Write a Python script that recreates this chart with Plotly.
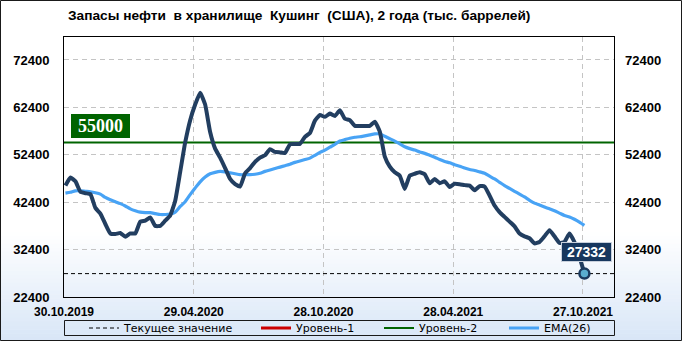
import pandas as pd
import plotly.graph_objects as go

# ---------------- data ----------------
dates = pd.date_range("2019-11-01", periods=105, freq="7D")

stocks = [
    45900, 47600, 46800, 44600, 44300, 44100, 41200, 40000, 37800, 35800,
    35700, 35900, 35100, 35800, 35800, 38300, 38500, 39200, 37400, 37400,
    38500, 39600, 42700, 48800, 55000, 59700, 63000, 65500, 63000, 57200,
    53700, 51800, 49600, 47300, 46200, 45700, 48500, 49600, 50900, 51800,
    52300, 53600, 53000, 52900, 52800, 54600, 54700, 54700, 56200, 57000,
    59600, 60800, 60400, 61100, 60600, 61800, 60000, 59700, 58500, 58500,
    58500, 58500, 59400, 57300, 52000, 49900, 48700, 48000, 45200, 48000,
    48400, 48700, 48300, 46400, 47300, 46400, 46800, 45600, 46300, 46200,
    46000, 45900, 44900, 45800, 45700, 43800, 41700, 40300, 39300, 38300,
    37300, 35800, 35200, 34800, 33700, 34000, 35200, 36500, 35200, 33800,
    34000, 35800, 34000, 30900, 27332,
]

ema26 = [
    44300, 44500, 44800, 44800, 44700, 44600, 44400, 44100, 43400, 42900,
    42500, 42100, 41600, 41000, 40600, 40300, 40200, 40200, 40000, 39800,
    39800, 39900, 40300, 41500, 42500, 44000, 45400, 46700, 47700, 48400,
    48700, 48900, 48800, 48600, 48400, 48200, 48200, 48200, 48300, 48500,
    48900, 49200, 49500, 49800, 50100, 50400, 50800, 51100, 51400, 51700,
    52300, 52900, 53400, 54000, 54600, 55300, 55600, 55900, 56100, 56200,
    56400, 56600, 56800, 56800, 56300, 55800, 55300, 54700, 54100, 53700,
    53400, 53000, 52700, 52300, 51900, 51400, 51000, 50700, 50300, 50000,
    49600, 49300, 49100, 48800, 48500, 47900, 47300, 46600, 45900, 45300,
    44700, 44100, 43500, 42800, 42200, 41800, 41400, 41000, 40600, 40100,
    39600, 39300, 38800, 38200, 37500,
]

level2 = 55000
current_value = stocks[-1]

x_range = ["2019-10-30", "2021-12-09 12:00"]
y_range = [22400, 77250]

x_tickvals = ["2019-10-30", "2020-04-29", "2020-10-28", "2021-04-28", "2021-10-27"]
x_ticktext = ["30.10.2019", "29.04.2020", "28.10.2020", "28.04.2021", "27.10.2021"]
y_tickvals = [22400, 32400, 42400, 52400, 62400, 72400]
y_ticktext = [str(v) for v in y_tickvals]

title_text = "Запасы нефти\u00a0 в хранилище\u00a0 Кушинг\u00a0 (США), 2 года (тыс. баррелей)"

# ---------------- layout geometry ----------------
W, H = 682, 341
ML, MR, MT, MB = 64, 68, 37, 44
PW, PH = W - ML - MR, H - MT - MB


def px_x(p):
    return (p - ML) / PW


def px_y(p):
    return (H - MB - p) / PH


fig = go.Figure()

# current value dashed line
fig.add_trace(go.Scatter(
    x=x_range, y=[current_value, current_value], mode="lines",
    line=dict(color="black", width=1, dash="4px,3px"),
    name="Текущее значение", hoverinfo="skip", legendwidth=127))

# level 1 (not visible in range)
fig.add_trace(go.Scatter(
    x=[None], y=[None], mode="lines",
    line=dict(color="#cc0000", width=3), name="Уровень-1", legendwidth=78))

# level 2
fig.add_trace(go.Scatter(
    x=x_range, y=[level2, level2], mode="lines",
    line=dict(color="#006400", width=2), name="Уровень-2", hoverinfo="skip",
    legendwidth=80))

# EMA
fig.add_trace(go.Scatter(
    x=dates, y=ema26, mode="lines",
    line=dict(color="#48a3f5", width=3.2, shape="spline", smoothing=0.6),
    name="EMA(26)", legendwidth=50))

# main series
fig.add_trace(go.Scatter(
    x=dates, y=stocks, mode="lines",
    line=dict(color="#223e60", width=4, shape="spline", smoothing=0.4),
    name="Запасы", showlegend=False))

# last point marker
fig.add_trace(go.Scatter(
    x=[dates[-1]], y=[stocks[-1]], mode="markers",
    marker=dict(size=10, color="#5aaed0", line=dict(color="#1b3a5e", width=2.5)),
    showlegend=False, cliponaxis=False))

# dummy for right axis
fig.add_trace(go.Scatter(x=[None], y=[None], yaxis="y2", showlegend=False, hoverinfo="skip"))

shapes = []
# background gradient bands (whole figure)
top_px, bot_px = 232, 341
n = 28
c0 = (255, 255, 255)
c1 = (216, 230, 247)
for k in range(n):
    a = top_px + (bot_px - top_px) * k / n
    b = top_px + (bot_px - top_px) * (k + 1) / n
    t = (k + 0.5) / n
    col = tuple(round(c0[j] + (c1[j] - c0[j]) * t) for j in range(3))
    shapes.append(dict(
        type="rect", xref="paper", yref="paper", layer="below",
        x0=px_x(0), x1=px_x(W), y0=px_y(b + 0.5), y1=px_y(a),
        fillcolor="rgb(%d,%d,%d)" % col, line=dict(width=0)))
# legend box
shapes.append(dict(
    type="rect", xref="paper", yref="paper", layer="above",
    x0=px_x(64.5), x1=px_x(614.5), y0=px_y(335.5), y1=px_y(320.5),
    line=dict(color="#1a1a1a", width=1), fillcolor="rgba(0,0,0,0)"))
# outer border
shapes.append(dict(
    type="rect", xref="paper", yref="paper", layer="above",
    x0=px_x(0.5), x1=px_x(681.5), y0=px_y(340.5), y1=px_y(0.5),
    line=dict(color="#1a1a1a", width=1), fillcolor="rgba(0,0,0,0)"))

annotations = [
    dict(text="<b>55000</b>", xref="paper", x=px_x(71), xanchor="left",
         yref="y", y=level2, yanchor="bottom", yshift=4, showarrow=False,
         font=dict(family="Liberation Serif", size=18, color="white"),
         bgcolor="#006400", borderpad=2, borderwidth=0, width=55, height=20),
    dict(text="<b>27332</b>", x=dates[-1], y=stocks[-1], xanchor="center",
         yanchor="bottom", yshift=12, xshift=2, showarrow=False,
         font=dict(family="Liberation Sans", size=14, color="white"),
         bgcolor="#17375e", bordercolor="#c8d0dc", borderwidth=1, borderpad=1,
         width=47, height=16),
]

axis_font = dict(family="Liberation Sans", size=13, color="black")

fig.update_layout(
    width=W, height=H,
    margin=dict(l=ML, r=MR, t=MT, b=MB, pad=0, autoexpand=False),
    paper_bgcolor="white", plot_bgcolor="rgba(0,0,0,0)",
    title=dict(text="<b>" + title_text + "</b>", xref="paper", x=px_x(68),
               xanchor="left", yref="container", y=1 - 15 / H, yanchor="middle",
               font=dict(family="Liberation Sans", size=13.7, color="black")),
    xaxis=dict(type="date", range=x_range, tickvals=x_tickvals,
               ticktext=["<b>%s</b>" % t for t in x_ticktext],
               showgrid=True, gridcolor="#c4c4c4", griddash="5px,4px", gridwidth=1,
               showline=True, linecolor="black", linewidth=1, mirror=True,
               ticks="", tickfont=dict(family="Liberation Sans", size=12, color="black"),
               ticklabelstandoff=4, zeroline=False),
    yaxis=dict(range=y_range, tickvals=y_tickvals, ticktext=["<b>%s</b>" % t for t in y_ticktext],
               showgrid=True, gridcolor="#c4c4c4", griddash="5px,4px", gridwidth=1,
               showline=True, linecolor="black", linewidth=1, mirror=True,
               ticks="", tickfont=axis_font, ticklabelstandoff=11, zeroline=False),
    yaxis2=dict(range=y_range, tickvals=y_tickvals, ticktext=["<b>%s</b>" % t for t in y_ticktext],
                overlaying="y", side="right", showgrid=False, ticks="",
                tickfont=axis_font, ticklabelstandoff=10, zeroline=False, showline=False),
    legend=dict(orientation="h", x=px_x(84), xanchor="left", y=px_y(328), yanchor="middle",
                bgcolor="rgba(0,0,0,0)", borderwidth=0,
                font=dict(family="DejaVu Sans", size=11, color="black"),
                itemwidth=30, tracegroupgap=0),
    shapes=shapes, annotations=annotations, showlegend=True,
)

fig.write_html("out.html")
